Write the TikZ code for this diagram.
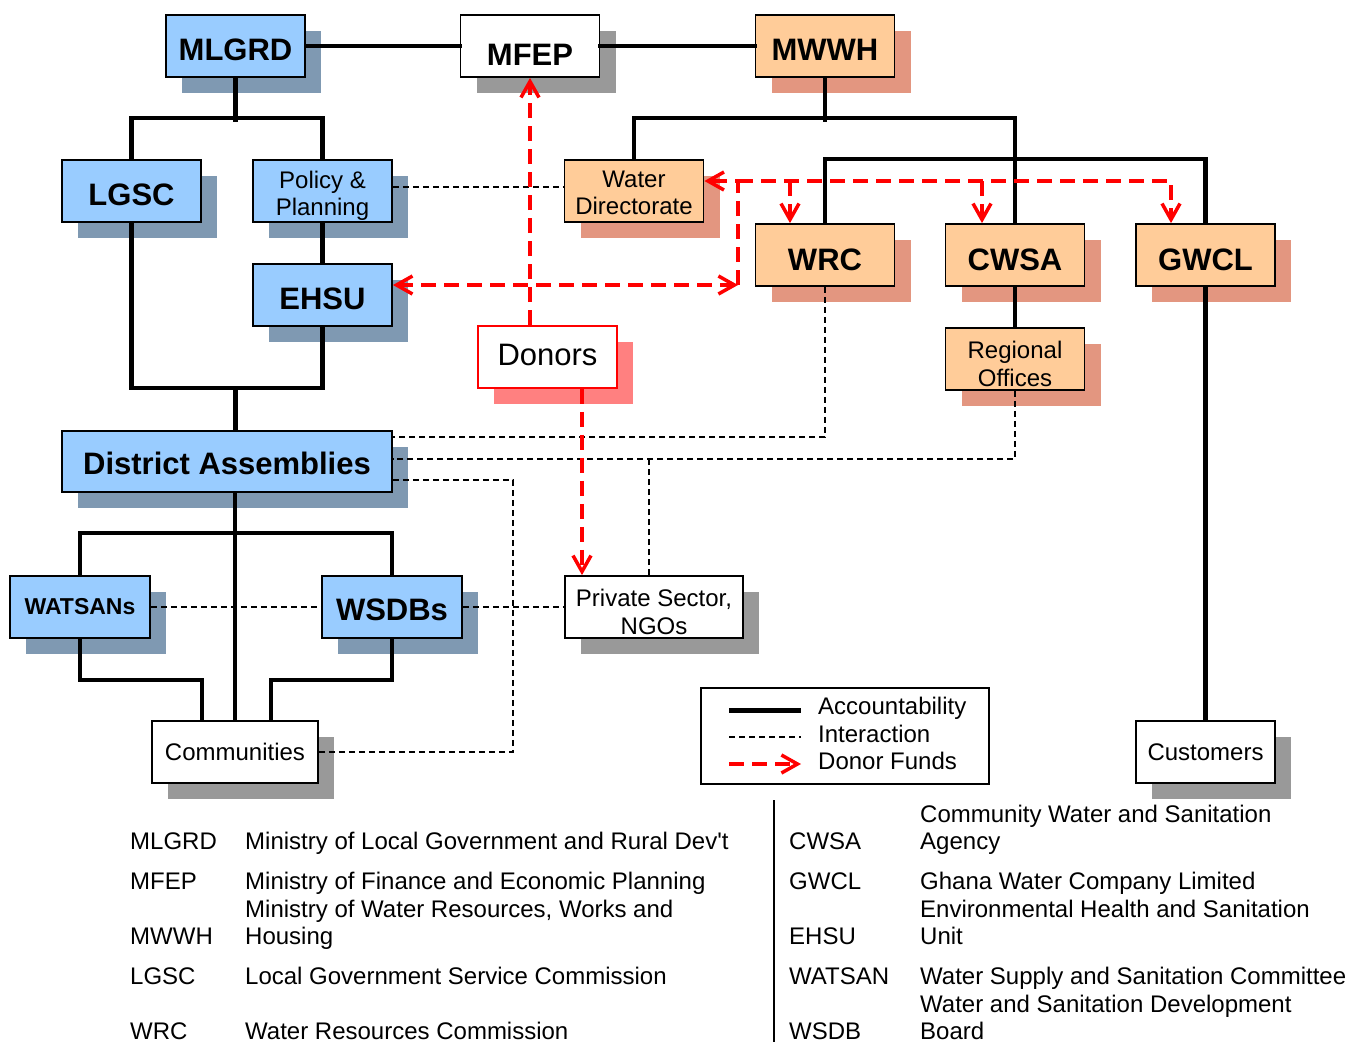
\documentclass[tikz,border=0pt]{standalone}
\usepackage{fontspec}
\setmainfont{Liberation Sans}
\usetikzlibrary{shadows,arrows.meta}
\definecolor{bfill}{RGB}{153,204,255}
\definecolor{bshadow}{RGB}{127,153,178}
\definecolor{ofill}{RGB}{255,204,153}
\definecolor{oshadow}{RGB}{227,150,128}
\definecolor{gshadow}{RGB}{153,153,153}
\definecolor{pshadow}{RGB}{255,128,128}
\definecolor{dred}{RGB}{255,0,0}
\newcommand\dn[2]{\raisebox{-#1}[\height][\depth]{#2}}
\begin{document}
\begin{tikzpicture}[x=1pt,y=-1pt,
  box/.style={draw=black, line width=1.8pt, minimum width=139pt, minimum height=62pt,
     inner sep=2pt, align=center, font=\fontsize{24}{27.5}\selectfont},
  bluebox/.style={box, fill=bfill, general shadow={fill=bshadow, shadow xshift=16pt, shadow yshift=-16pt}},
  orbox/.style={box, fill=ofill, general shadow={fill=oshadow, shadow xshift=16pt, shadow yshift=-16pt}},
  whbox/.style={box, fill=white, general shadow={fill=gshadow, shadow xshift=16pt, shadow yshift=-16pt}},
  donorbox/.style={box, draw=dred, fill=white, general shadow={fill=pshadow, shadow xshift=16pt, shadow yshift=-16pt}},
  big/.style={font=\fontsize{31}{34}\selectfont\bfseries},
  acc/.style={line width=4.5pt, line cap=rect},
  inter/.style={line width=1.5pt, dash pattern=on 6pt off 4pt},
  donor/.style={line width=3.5pt, draw=dred, dash pattern=on 15pt off 8pt},
  tip/.style={-{Straight Barb[length=16pt,width=18pt,line width=3.5pt]}},
  txt/.style={anchor=base west, inner sep=0pt, font=\fontsize{24}{27.5}\selectfont},
]
\useasboundingbox (0,0) rectangle (1349,1042);

% ---- boxes
\node[bluebox,big] (mlgrd) at (235.5,46) {\dn{3.5pt}{MLGRD}};
\node[whbox,big] (mfep) at (530,46) {\dn{8.5pt}{MFEP}};
\node[orbox,big] (mwwh) at (825,46) {\dn{3.5pt}{MWWH}};
\node[bluebox,big] (lgsc) at (131.5,191) {\dn{3.5pt}{LGSC}};
\node[bluebox] (policy) at (322.5,191) {\dn{5pt}{Policy \&}\\\dn{5pt}{Planning}};
\node[bluebox,big] (ehsu) at (322.5,295) {\dn{3.5pt}{EHSU}};
\node[orbox] (wd) at (634,191) {\dn{2pt}{Water}\\\dn{2pt}{Directorate}};
\node[orbox,big] (wrc) at (825,255) {\dn{4.5pt}{WRC}};
\node[orbox,big] (cwsa) at (1015,255) {\dn{4.5pt}{CWSA}};
\node[orbox,big] (gwcl) at (1205.5,255) {\dn{4.5pt}{GWCL}};
\node[orbox] (reg) at (1015,359) {\dn{5pt}{Regional}\\\dn{5pt}{Offices}};
\node[donorbox,font=\fontsize{31}{34}\selectfont] (donors) at (547.5,357) {\dn{-2pt}{Donors}};
\node[bluebox,big,minimum width=330pt,minimum height=61pt] (da) at (227,461.5) {\dn{1.5pt}{District Assemblies}};
\node[bluebox,font=\fontsize{23}{26}\selectfont\bfseries,minimum width=140pt] (watsan) at (80,607) {WATSANs};
\node[bluebox,big,minimum width=140pt] (wsdb) at (392,607) {\dn{2.5pt}{WSDBs}};
\node[whbox,minimum width=178pt] (private) at (654,607) {\dn{5pt}{Private Sector,}\\\dn{5pt}{NGOs}};
\node[whbox,minimum width=166pt] (comm) at (235,752) {Communities};
\node[whbox] (cust) at (1205.5,752) {Customers};

% ---- accountability lines
\draw[acc] (mlgrd) -- (mfep);
\draw[acc] (mfep) -- (mwwh);
\draw[acc] (mlgrd.south) -- ++(0,42);
\draw[acc] (lgsc.north) -- ++(0,-41) -| (policy.north);
\draw[acc] (policy.south) -- (ehsu.north);
\coordinate (lowbar) at (235.5,388);
\draw[acc] (lgsc.south) |- (lowbar) -| (ehsu.south);
\draw[acc] (lowbar) -- (da.north -| lowbar);
\draw[acc] (mwwh.south) -- ++(0,42);
\draw[acc] (wd.north) -- ++(0,-41) -| (cwsa.north);
\draw[acc] (wrc.north) -- ++(0,-64) -| (gwcl.north);
\draw[acc] (cwsa.south) -- (reg.north);
\draw[acc] (gwcl.south) -- (cust.north);
\draw[acc] (comm.north |- da.south) -- (comm.north);
\draw[acc] (watsan.north) -- ++(0,-42) -| (wsdb.north);
\draw[acc] (watsan.south) -- ++(0,41) -| ([xshift=-33pt]comm.north);
\draw[acc] (wsdb.south) -- ++(0,41) -| ([xshift=36pt]comm.north);

% ---- interaction lines
\draw[inter] ([yshift=4pt]policy.east) -- ([yshift=4pt]wd.west);
\draw[inter] (wrc.south) |- ([yshift=24.5pt]da.east);
\draw[inter] (reg.south) |- ([yshift=2.5pt]da.east);
\draw[inter] ([xshift=-5pt]private.north) -- ++(0,-117);
\coordinate (dcorner) at (513,480);
\draw[inter] ([yshift=-18.5pt]da.east) -- (dcorner) |- (comm.east);
\draw[inter] (watsan.east) -- (wsdb.west);
\draw[inter] (wsdb.east) -- (private.west);

% ---- donor funds
\draw[donor,tip] (mfep.south |- donors.north) -- (mfep.south);
\coordinate (pA) at ([xshift=-72pt]private.north);
\draw[donor,tip] (pA |- donors.south) -- (pA);
\coordinate (hub) at (738,285);
\coordinate (hubtop) at (738,181);
\draw[donor,{Straight Barb[length=16pt,width=18pt,line width=3.5pt]}-{Straight Barb[length=16pt,width=18pt,line width=3.5pt]}] ([yshift=10pt]ehsu.east) -- (hub);
\draw[donor,tip] (hub) -- (hubtop) -- ([yshift=10pt]wd.east);
\draw[donor,tip] (hubtop) -| ([xshift=-34.5pt]gwcl.north);
\draw[donor,tip] ([xshift=-35pt]wrc.north |- hubtop) -- ([xshift=-35pt]wrc.north);
\draw[donor,tip] ([xshift=-33pt]cwsa.north |- hubtop) -- ([xshift=-33pt]cwsa.north);

% ---- legend box
\node[draw=black, line width=1.8pt, minimum width=288pt, minimum height=96pt] (legend) at (845,736) {};
\coordinate (l1a) at (729,710); \coordinate (l1b) at (801,710);
\coordinate (l2a) at (729,737); \coordinate (l2b) at (801,737);
\coordinate (l3a) at (729,764); \coordinate (l3b) at (801,764);
\draw[line width=5pt] (l1a) -- (l1b);
\draw[inter] (l2a) -- (l2b);
\draw[donor,tip] (l3a) -- (l3b);
\node[txt] (t1) at (818,714) {Accountability};
\node[txt] (t2) at (818,742) {Interaction};
\node[txt] (t3) at (818,769) {Donor Funds};

% ---- abbreviations
\coordinate (sepTop) at (774,800); \coordinate (sepBot) at (774,1042);
\draw[line width=1.5pt] (sepTop) -- (sepBot);
\node[txt] (a1) at (130,849) {MLGRD};
\node[txt] (d1) at (245,849) {Ministry of Local Government and Rural Dev\textquotesingle t};
\node[txt] (a2) at (130,889) {MFEP};
\node[txt] (d2) at (245,889) {Ministry of Finance and Economic Planning};
\node[txt] (d3a) at (245,917) {Ministry of Water Resources, Works and};
\node[txt] (a3) at (130,944) {MWWH};
\node[txt] (d3b) at (245,944) {Housing};
\node[txt] (a4) at (130,984) {LGSC};
\node[txt] (d4) at (245,984) {Local Government Service Commission};
\node[txt] (a5) at (130,1039) {WRC};
\node[txt] (d5) at (245,1039) {Water Resources Commission};

\node[txt] (e1a) at (920,822) {Community Water and Sanitation};
\node[txt] (b1) at (789,849) {CWSA};
\node[txt] (e1b) at (920,849) {Agency};
\node[txt] (b2) at (789,889) {GWCL};
\node[txt] (e2) at (920,889) {Ghana Water Company Limited};
\node[txt] (e3a) at (920,917) {Environmental Health and Sanitation};
\node[txt] (b3) at (789,944) {EHSU};
\node[txt] (e3b) at (920,944) {Unit};
\node[txt] (b4) at (789,984) {WATSAN};
\node[txt] (e4) at (920,984) {Water Supply and Sanitation Committee};
\node[txt] (e5a) at (920,1012) {Water and Sanitation Development};
\node[txt] (b5) at (789,1039) {WSDB};
\node[txt] (e5b) at (920,1039) {Board};
\end{tikzpicture}
\end{document}
